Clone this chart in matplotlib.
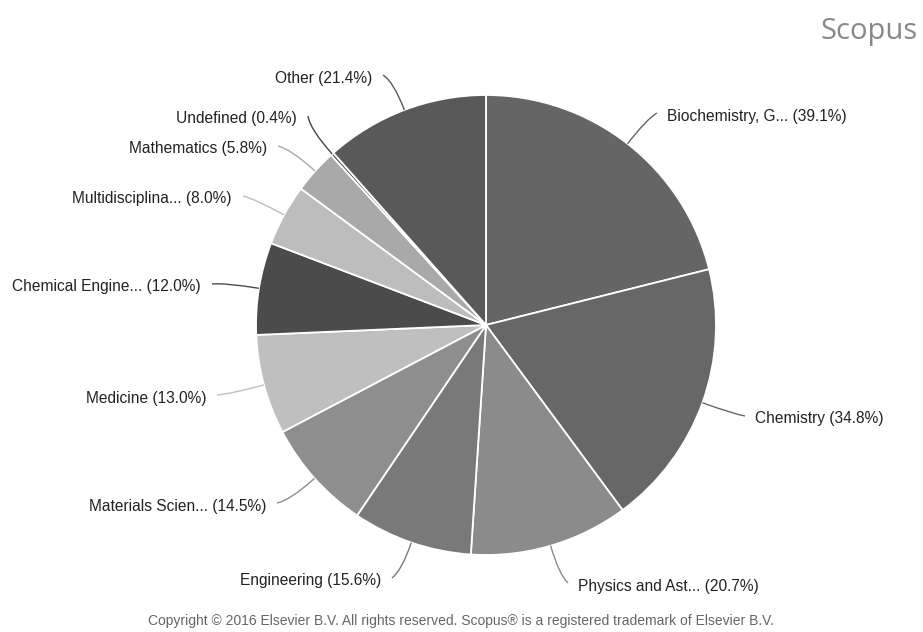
import matplotlib
matplotlib.use("Agg")
import matplotlib.pyplot as plt
import numpy as np
from matplotlib.path import Path
from matplotlib.patches import PathPatch

# subject areas, clockwise from the top
categories = [
    "Biochemistry, G...", "Chemistry", "Physics and Ast...", "Engineering",
    "Materials Scien...", "Medicine", "Chemical Engine...", "Multidisciplina...",
    "Mathematics", "Undefined", "Other",
]
shares = [39.1, 34.8, 20.7, 15.6, 14.5, 13.0, 12.0, 8.0, 5.8, 0.4, 21.4]
colors = [
    "#656565", "#676767", "#8b8b8b", "#797979", "#8e8e8e", "#bfbfbf",
    "#4b4b4b", "#bdbdbd", "#a9a9a9", "#454545", "#595959",
]

# layout (pixel coords of the leader end next to each label, image y down)
label_anchor = [
    (657, 113), (745, 416), (568, 583), (392, 578), (277, 503), (217, 395),
    (212, 284), (243, 196), (278, 146), (308, 116), (383, 75),
]

W, H = 923, 632
CX, CY, R = 486, 325, 230


def px(x, y):
    return x, H - y


fig = plt.figure(figsize=(W / 100, H / 100), dpi=100)
ax = fig.add_axes([0, 0, 1, 1])

wedges, _ = ax.pie(
    shares,
    colors=colors,
    startangle=90,
    counterclock=False,
    center=px(CX, CY),
    radius=R,
    wedgeprops=dict(edgecolor="white", linewidth=1.3),
)

for w, name, val, col, (lx, ly) in zip(wedges, categories, shares, colors, label_anchor):
    mid = np.deg2rad((w.theta1 + w.theta2) / 2)
    d = np.array([np.cos(mid), np.sin(mid)])
    c = np.array(px(CX, CY))
    edge = c + d * R
    end = np.array(px(lx, ly))
    reach = np.linalg.norm(end - c) - R
    ctrl = c + d * (R + 0.75 * reach)
    path = Path([edge, ctrl, end], [Path.MOVETO, Path.CURVE3, Path.CURVE3])
    ax.add_patch(PathPatch(path, facecolor="none", edgecolor=col, linewidth=1.0))
    right = lx > CX
    ax.text(
        lx + (10 if right else -11), H - ly - 3, f"{name} ({val:.1f}%)",
        ha="left" if right else "right", va="center",
        fontsize=11.2, family="Liberation Sans", color="#222222",
    )

ax.text(*px(918, 31), "Scopus", ha="right", va="center",
        fontsize=21, family="Open Sans", color="#888888")
ax.text(*px(461, 621), "Copyright \u00a9 2016 Elsevier B.V. All rights reserved. "
        "Scopus\u00ae is a registered trademark of Elsevier B.V.",
        ha="center", va="center", fontsize=10, family="Liberation Sans",
        color="#666666")

ax.set_xlim(0, W)
ax.set_ylim(0, H)
ax.set_aspect("equal")
ax.axis("off")
fig.savefig("out.png", dpi=100)
